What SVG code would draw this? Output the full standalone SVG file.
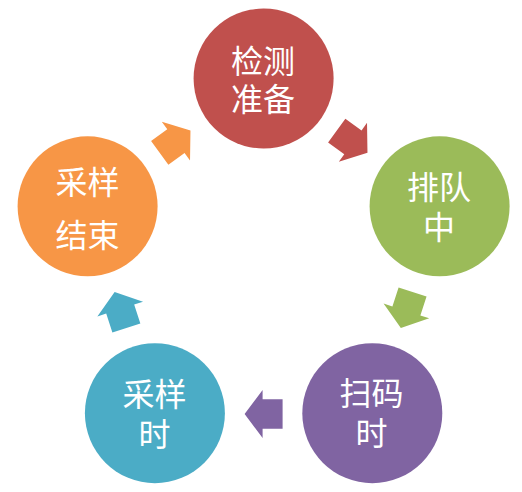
<svg xmlns="http://www.w3.org/2000/svg" width="522" height="492" viewBox="0 0 522 492">
<style>
.lbl{font-family:"Noto Sans CJK SC","Noto Sans CJK JP",sans-serif;font-size:32px;fill:#FFFFFF;text-anchor:middle}
</style>
<defs>
<path id="arr" d="M-19,-14.7 H1 V-24 L19,0 L1,24 V14.7 H-19 Z"/>
</defs>
<rect width="522" height="492" fill="#FFFFFF"/>
<g id="connectors">
<use href="#arr" fill="#C0504D" transform="translate(352.1,141.7) rotate(36)"/>
<use href="#arr" fill="#9BBB59" transform="translate(406.7,310) rotate(108)"/>
<use href="#arr" fill="#8064A2" transform="translate(263.6,414) rotate(180)"/>
<use href="#arr" fill="#4BACC6" transform="translate(120.5,310) rotate(252)"/>
<use href="#arr" fill="#F79646" transform="translate(175.1,141.7) rotate(324)"/>
</g>
<g id="node-jiance">
<circle cx="263.6" cy="78.5" r="70" fill="#C0504D"/>
<text class="lbl" x="263" y="73">检测</text>
<text class="lbl" x="263" y="111">准备</text>
</g>
<g id="node-paidui">
<circle cx="439.6" cy="206.3" r="70" fill="#9BBB59"/>
<text class="lbl" x="439" y="198.5">排队</text>
<text class="lbl" x="439" y="238.5">中</text>
</g>
<g id="node-saoma">
<circle cx="372.3" cy="413.2" r="70" fill="#8064A2"/>
<text class="lbl" x="371.5" y="405">扫码</text>
<text class="lbl" x="371.5" y="444.5">时</text>
</g>
<g id="node-caiyang">
<circle cx="154.9" cy="413.2" r="70" fill="#4BACC6"/>
<text class="lbl" x="154.5" y="406">采样</text>
<text class="lbl" x="154.5" y="445.5">时</text>
</g>
<g id="node-jieshu">
<circle cx="87.6" cy="206.3" r="70" fill="#F79646"/>
<text class="lbl" x="87.5" y="193.5">采样</text>
<text class="lbl" x="87.5" y="247">结束</text>
</g>
</svg>
